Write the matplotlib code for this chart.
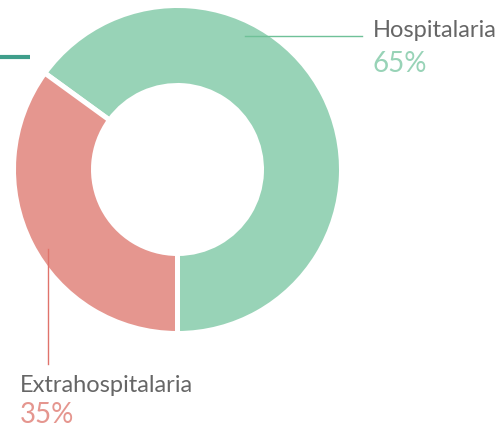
import matplotlib.pyplot as plt

labels = ["Hospitalaria", "Extrahospitalaria"]
values = [65, 35]
colors = ["#98d3b7", "#e5968f"]
line_colors = ["#6fc198", "#e0736b"]
text_gray = "#666666"

W, H = 497, 429
fig = plt.figure(figsize=(W / 100, H / 100), dpi=100)
ax = fig.add_axes([0, 0, 1, 1])

plt.rcParams["font.family"] = ["Lato", "DejaVu Sans"]

# donut
cx, cy = 177.5, H - 169.5
ax.pie(values, colors=colors, startangle=-90, counterclock=True,
       center=(cx, cy), radius=164, frame=True,
       wedgeprops=dict(width=80, edgecolor="white", linewidth=3.6))
ax.set_xlim(0, W)
ax.set_ylim(0, H)
ax.set_aspect("equal")
ax.axis("off")

# decorative teal mark
ax.plot([0, 30], [H - 57, H - 57], color="#3f9e8b", lw=3, solid_capstyle="butt")

# leader lines
ax.plot([245, 362], [H - 36, H - 36], color=line_colors[0], lw=1, zorder=5)
ax.plot([48, 48], [H - 249, H - 364], color=line_colors[1], lw=1, zorder=5)

# labels
ax.text(373, H - 37, labels[0], color=text_gray, fontsize=17, va="baseline", ha="left")
ax.text(373, H - 72, f"{values[0]}%", color=colors[0], fontsize=20, va="baseline", ha="left")
ax.text(20, H - 392, labels[1], color=text_gray, fontsize=17, va="baseline", ha="left")
ax.text(20, H - 423, f"{values[1]}%", color=colors[1], fontsize=20, va="baseline", ha="left")

fig.savefig("out.png", dpi=100, facecolor="white")
